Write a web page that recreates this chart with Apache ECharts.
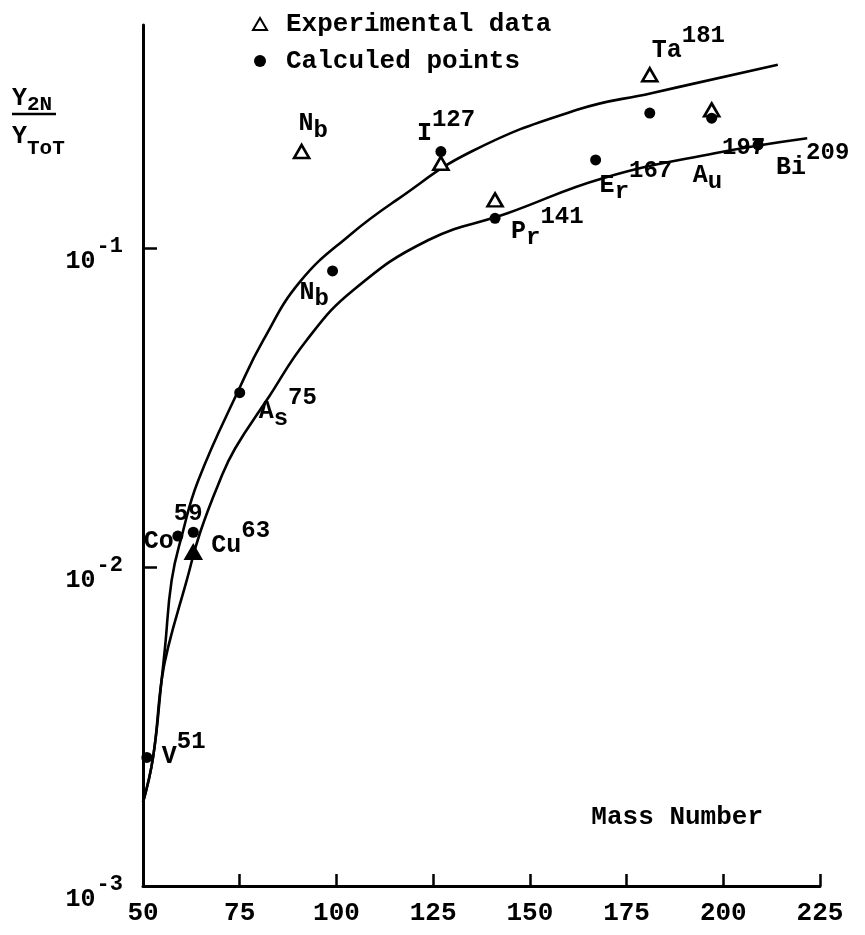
<!DOCTYPE html>
<html>
<head>
<meta charset="utf-8">
<script src="https://cdn.jsdelivr.net/npm/echarts@6/dist/echarts.min.js"></script>
<style>
  html, body { margin: 0; padding: 0; background: #fff; }
  #chart { width: 865px; height: 935px; }
</style>
</head>
<body>
<div id="chart"></div>
<script>
// Ratio Y2N / Ytot against mass number, logarithmic ordinate

const xTicks = [50, 75, 100, 125, 150, 175, 200, 225];
const yTicks = [0.001, 0.01, 0.1];

// calculated points
const calcX = [51, 59, 63, 75, 99, 127, 141, 167, 181, 197, 209];
const calcY = [0.00253, 0.0125, 0.01285, 0.0352, 0.0847, 0.2006, 0.1239, 0.1888, 0.2647, 0.2553, 0.2105];
const calcName = ['V', 'Co', 'Cu', 'A', 'N', 'I', 'P', 'E', '', 'A', 'Bi'];
const calcSub = ['', '', '', 's', 'b', '', 'r', 'r', '', 'u', ''];
const calcShowMass = [true, true, true, true, false, true, true, true, false, true, true];

// experimental data
const expX = [63, 91, 127, 141, 181, 197];
const expY = [0.01112, 0.2006, 0.1844, 0.1415, 0.349, 0.271];
const expName = ['', 'N', '', '', 'Ta', ''];
const expSub = ['', 'b', '', '', '', ''];
const expShowMass = [false, false, false, false, true, false];

// hand-drawn trend curves
const upperX = [50, 52.6, 54.8, 55.7, 57.4, 60.0, 64.3, 75.1, 81.1, 90.6, 103.5, 115.6, 134.9, 162.2, 181.4, 214.1];
const upperY = [0.00183, 0.00253, 0.00441, 0.00561, 0.00908, 0.01248, 0.01871, 0.03671, 0.0514, 0.0784, 0.1099, 0.1415, 0.2006, 0.271, 0.3057, 0.3752];
const lowerX = [50, 52.6, 54.8, 56.5, 61.3, 64.7, 69.9, 73.8, 82.0, 92.3, 104.4, 123.8, 144.2, 168.9, 197.8, 221.7];
const lowerY = [0.00183, 0.00253, 0.00441, 0.00561, 0.00908, 0.01276, 0.01871, 0.02352, 0.03336, 0.0514, 0.0738, 0.1059, 0.1285, 0.1655, 0.1982, 0.2209];

// ---- styling ----
const FONT = '"Liberation Mono", "DejaVu Sans Mono", monospace';
const INK = '#000';
const BASE_PAD = 14, BASE_PAD_HIGH = 27;

// label placement: [dx, dy] of the element symbol relative to the marker centre
const calcLabelPos = [[15, 0], [-34, 6], [18, 14], [19, 20], [-33, 22], [-24, -17], [16, 14], [4, 26], null, [-19, 58], [18, 23]];
const calcLabelHigh = [false, true, false, false, false, false, false, false, false, true, false];
const expLabelPos = [null, [-3, -27], null, null, [2, -24], null];

const tokenStyle = (size, pad) => ({
  fontFamily: FONT, fontWeight: 'bold', fontSize: size, color: INK,
  lineHeight: size + 1, padding: [pad, 0, 0, 0], verticalAlign: 'top'
});
const labelRich = {
  b: tokenStyle(25, BASE_PAD),
  d: tokenStyle(24, BASE_PAD + 7),
  bh: tokenStyle(25, BASE_PAD_HIGH),
  dh: tokenStyle(24, BASE_PAD_HIGH + 7),
  u: tokenStyle(24, 0)
};

function richLabel(name, sub, sup, high) {
  const b = high ? 'bh' : 'b';
  const d = high ? 'dh' : 'd';
  let s = '{' + b + '|' + name + '}';
  if (sub) s += '{' + d + '|' + sub + '}';
  if (sup) s += '{u|' + sup + '}';
  return s;
}

function pointItems(xs, ys, names, subs, showMass, pos, high, extraStyle) {
  return xs.map((x, i) => {
    const item = { value: [x, ys[i]] };
    if (extraStyle && extraStyle[i]) item.itemStyle = extraStyle[i];
    if (pos[i] && names[i]) {
      const pad = (high && high[i]) ? BASE_PAD_HIGH : BASE_PAD;
      item.label = {
        show: true,
        position: 'inside',
        align: 'left',
        verticalAlign: 'top',
        offset: [pos[i][0], pos[i][1] - (pad + 13)],
        formatter: richLabel(names[i], subs[i], showMass[i] ? String(x) : '', high && high[i]),
        rich: labelRich
      };
    }
    return item;
  });
}

const chart = echarts.init(document.getElementById('chart'), null, { renderer: 'canvas' });

const yLabelRich = {
  b: { fontFamily: FONT, fontWeight: 'bold', fontSize: 25, color: INK, lineHeight: 26, padding: [14, 0, 0, 0], verticalAlign: 'top' },
  bl: { fontFamily: FONT, fontWeight: 'bold', fontSize: 25, color: INK, lineHeight: 26, padding: [14, 0, 40, 0], verticalAlign: 'top' },
  u: { fontFamily: FONT, fontWeight: 'bold', fontSize: 22, color: INK, lineHeight: 24, padding: [0, 0, 0, 1], verticalAlign: 'top' }
};

chart.setOption({
  animation: false,
  backgroundColor: '#fff',
  grid: { left: 143, right: 45, top: 25, bottom: 49, containLabel: false, outerBoundsMode: 'none' },
  legend: {
    orient: 'vertical',
    left: 247,
    top: 6,
    itemWidth: 14,
    itemHeight: 12,
    itemGap: 11,
    selectedMode: false,
    data: ['Experimental data', 'Calculed points'],
    textStyle: { fontFamily: FONT, fontWeight: 'bold', fontSize: 26, color: INK, lineHeight: 26, padding: [0, 0, 0, 14] }
  },
  xAxis: {
    type: 'value',
    min: xTicks[0],
    max: xTicks[xTicks.length - 1],
    interval: xTicks[1] - xTicks[0],
    name: 'Mass Number',
    nameLocation: 'end',
    nameGap: -57,
    nameTextStyle: {
      fontFamily: FONT, fontWeight: 'bold', fontSize: 26, color: INK,
      align: 'right', verticalAlign: 'bottom', padding: [0, 0, 56, 0]
    },
    axisLine: { lineStyle: { color: INK, width: 3 } },
    axisTick: { inside: true, length: 12, lineStyle: { color: INK, width: 2.5 } },
    axisLabel: {
      margin: 14,
      fontFamily: FONT, fontWeight: 'bold', fontSize: 26, color: INK,
      formatter: v => String(v)
    },
    splitLine: { show: false }
  },
  yAxis: {
    type: 'log',
    logBase: 10,
    min: yTicks[0],
    max: 0.5,
    axisLine: { lineStyle: { color: INK, width: 3 } },
    axisTick: { inside: true, length: 14, customValues: yTicks, lineStyle: { color: INK, width: 2.5 } },
    axisLabel: {
      margin: 20,
      customValues: yTicks,
      formatter: v => {
        const e = Math.round(Math.log10(v));
        const base = e === -3 ? 'bl' : 'b';
        return '{' + base + '|10}{u|' + String(e) + '}';
      },
      rich: yLabelRich
    },
    splitLine: { show: false },
    minorTick: { show: false }
  },
  graphic: [
    { type: 'text', left: 12, top: 86, style: { text: 'Y', font: 'bold 25px ' + FONT, fill: INK } },
    { type: 'text', left: 27, top: 94, style: { text: '2N', font: 'bold 21px ' + FONT, fill: INK } },
    { type: 'line', shape: { x1: 12, y1: 114, x2: 56, y2: 114 }, style: { stroke: INK, lineWidth: 2.5 } },
    { type: 'text', left: 12, top: 124, style: { text: 'Y', font: 'bold 25px ' + FONT, fill: INK } },
    { type: 'text', left: 27, top: 138, style: { text: 'ToT', font: 'bold 21px ' + FONT, fill: INK } }
  ],
  series: [
    {
      name: 'upper curve',
      type: 'line',
      data: upperX.map((x, i) => [x, upperY[i]]),
      smooth: 0.45,
      symbol: 'none',
      silent: true,
      lineStyle: { color: INK, width: 2.6 },
      z: 1
    },
    {
      name: 'lower curve',
      type: 'line',
      data: lowerX.map((x, i) => [x, lowerY[i]]),
      smooth: 0.45,
      symbol: 'none',
      silent: true,
      lineStyle: { color: INK, width: 2.6 },
      z: 1
    },
    {
      name: 'Experimental data',
      type: 'scatter',
      symbol: 'triangle',
      symbolSize: [15, 13],
      itemStyle: { color: '#fff', borderColor: INK, borderWidth: 2.6, opacity: 1 },
      data: pointItems(expX, expY, expName, expSub, expShowMass, expLabelPos, null,
        [{ color: INK }, null, null, null, null, null]),
      z: 3
    },
    {
      name: 'Calculed points',
      type: 'scatter',
      symbol: 'circle',
      symbolSize: 11,
      itemStyle: { color: INK, opacity: 1 },
      data: pointItems(calcX, calcY, calcName, calcSub, calcShowMass, calcLabelPos, calcLabelHigh, null),
      z: 4
    }
  ]
});
</script>
</body>
</html>
